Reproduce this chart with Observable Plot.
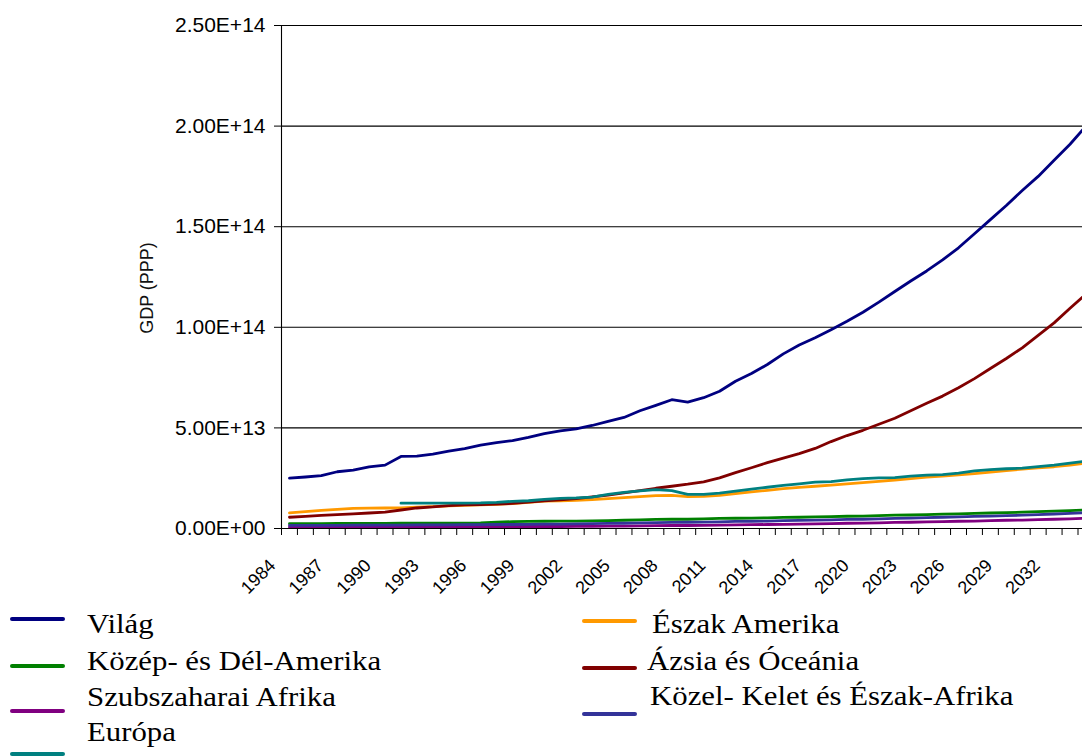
<!DOCTYPE html>
<html>
<head>
<meta charset="utf-8">
<script src="https://cdn.jsdelivr.net/npm/d3@7"></script>
<script src="https://cdn.jsdelivr.net/npm/@observablehq/plot@0.6"></script>
<style>
  html, body { margin: 0; padding: 0; background: #fff; }
  body { width: 1082px; height: 756px; overflow: hidden; position: relative; }
  #chart svg { display: block; }
  .leg-text { position: absolute; font-family: "Liberation Serif", "Times New Roman", serif; font-size: 28px; line-height: 28px; white-space: nowrap; color: #000; transform: scaleX(1.1); transform-origin: left top; }
  .leg-line { position: absolute; width: 55px; height: 4px; border-radius: 2px; }
</style>
</head>
<body>
<div id="chart"></div>
<div id="legend"></div>
<script>
// ---- data (values in units of 1e13 GDP PPP) ----
const years = [1984,1985,1986,1987,1988,1989,1990,1991,1992,1993,1994,1995,1996,1997,1998,1999,
  2000,2001,2002,2003,2004,2005,2006,2007,2008,2009,2010,2011,2012,2013,2014,2015,2016,2017,2018,2019,
  2020,2021,2022,2023,2024,2025,2026,2027,2028,2029,2030,2031,2032,2033,2034];
const labelYears = [1984,1987,1990,1993,1996,1999,2002,2005,2008,2011,2014,2017,2020,2023,2026,2029,2032];
const yTicks = [0, 5e13, 1e14, 1.5e14, 2e14, 2.5e14];

const vilag = [2.50,2.56,2.63,2.82,2.90,3.06,3.15,3.58,3.60,3.70,3.84,
  3.97,4.14,4.27,4.37,4.53,
  4.72,4.85,4.95,5.12,5.32,
  5.52,5.85,6.12,6.40,6.28,
  6.50,6.82,7.32,7.70,8.15,
  8.68,9.12,9.48,9.88,10.30,
  10.75,11.25,11.78,12.30,12.80,
  13.35,13.95,14.65,15.35,16.05,
  16.80,17.50,18.30,19.10,20.00];
const eszakAmerika = [0.78,0.84,0.90,0.95,1.00,1.01,1.02,1.03,1.06,1.09,1.12,
  1.15,1.17,1.20,1.24,1.30,
  1.36,1.38,1.40,1.44,1.48,
  1.53,1.58,1.63,1.65,1.58,
  1.60,1.65,1.74,1.82,1.90,
  1.98,2.04,2.10,2.16,2.22,
  2.28,2.34,2.41,2.48,2.55,
  2.61,2.67,2.73,2.80,2.88,
  2.95,3.01,3.07,3.15,3.25];
const kozepDelAmerika = [0.24,0.24,0.24,0.25,0.25,0.25,0.25,0.26,0.26,0.26,0.27,
  0.27,0.28,0.31,0.34,0.35,
  0.36,0.37,0.37,0.38,0.39,
  0.41,0.43,0.45,0.46,0.46,
  0.48,0.50,0.51,0.52,0.53,
  0.55,0.56,0.58,0.59,0.61,
  0.62,0.64,0.66,0.67,0.69,
  0.71,0.73,0.75,0.77,0.79,
  0.81,0.84,0.86,0.89,0.92];
const azsiaOceania = [0.56,0.60,0.65,0.69,0.73,0.77,0.81,0.92,1.02,1.07,1.14,
  1.18,1.19,1.21,1.25,1.31,
  1.37,1.42,1.48,1.57,1.66,
  1.77,1.88,2.00,2.10,2.20,
  2.32,2.52,2.78,3.02,3.27,
  3.50,3.72,3.98,4.32,4.62,
  4.88,5.18,5.48,5.85,6.22,
  6.58,7.00,7.45,7.95,8.45,
  8.98,9.60,10.22,10.95,11.65];
const szubszaharai = [0.08,0.08,0.08,0.08,0.08,0.08,0.08,0.09,0.09,0.09,0.09,
  0.09,0.09,0.10,0.10,0.10,
  0.10,0.10,0.11,0.11,0.12,
  0.12,0.13,0.14,0.15,0.15,
  0.16,0.17,0.18,0.19,0.20,
  0.21,0.22,0.23,0.24,0.26,
  0.27,0.28,0.30,0.31,0.33,
  0.34,0.36,0.37,0.39,0.41,
  0.42,0.44,0.46,0.48,0.51];
const kozelKelet = [0.16,0.16,0.16,0.16,0.17,0.17,0.17,0.17,0.18,0.18,0.18,
  0.19,0.19,0.20,0.20,0.21,
  0.22,0.22,0.23,0.24,0.25,
  0.26,0.28,0.29,0.30,0.31,
  0.32,0.33,0.35,0.36,0.37,
  0.39,0.40,0.42,0.43,0.45,
  0.46,0.48,0.50,0.52,0.54,
  0.56,0.58,0.60,0.62,0.64,
  0.66,0.69,0.72,0.75,0.78];
const europa = [null,null,null,null,null,null,null,1.26,1.26,1.26,1.26,
  1.26,1.27,1.30,1.35,1.38,
  1.45,1.50,1.52,1.56,1.70,
  1.80,1.87,1.93,1.88,1.70,
  1.70,1.76,1.86,1.96,2.05,
  2.14,2.22,2.30,2.33,2.42,
  2.48,2.52,2.53,2.60,2.65,
  2.68,2.75,2.86,2.93,2.97,
  3.00,3.08,3.15,3.25,3.35];

// series in Excel drawing order (later drawn on top)
const seriesNames = ["Világ","Észak Amerika","Közép- és Dél-Amerika","Ázsia és Óceánia","Szubszaharai Afrika","Közel- Kelet és Észak-Afrika","Európa"];
const seriesValues = [vilag, eszakAmerika, kozepDelAmerika, azsiaOceania, szubszaharai, kozelKelet, europa];
const seriesColors = ["#000080","#FF9900","#008000","#800000","#800080","#333399","#008080"];

// ---- build table ----
const table = [];
seriesNames.forEach((name, i) => {
  years.forEach((yr, j) => {
    const v = seriesValues[i][j];
    if (v != null) table.push({series: name, year: yr, value: v * 1e13});
  });
});

const fmt = v => {
  const [m, e] = v.toExponential(2).split("e");
  return m + "E" + e[0] + e.slice(1).padStart(2, "0");
};

// category boundaries for x ticks
const boundaries = years.map(y => y - 0.5);

const pxPerYear = 15.93;
const marginLeft = 281;
const width = 1082;
const xDomainEnd = 1983.5 + (width - marginLeft) / pxPerYear;

const lineMarks = seriesNames.map((name, i) =>
  Plot.line(table.filter(d => d.series === name), {
    x: "year", y: "value", stroke: seriesColors[i], strokeWidth: 2.8,
    strokeLinejoin: "round", strokeLinecap: "round", clip: true
  })
);

const chart = Plot.plot({
  width: width,
  height: 605,
  marginLeft: marginLeft,
  marginRight: 0,
  marginTop: 25,
  marginBottom: 77,
  x: {domain: [1983.5, xDomainEnd], axis: null},
  y: {domain: [0, 2.5e14], axis: null, label: null},
  style: {fontFamily: "'Liberation Sans', Arial, sans-serif", background: "#fff", color: "#000"},
  marks: [
    Plot.ruleY(yTicks, {stroke: "#000", strokeWidth: 1.1}),
    Plot.axisY(yTicks, {tickSize: 7, tickPadding: 9, tickFormat: fmt, fontSize: 21, label: null, fill: "#000"}),
    Plot.axisX(boundaries, {tickSize: 7, tickFormat: () => "", label: null}),
    Plot.ruleX([1983.5], {stroke: "#000", strokeWidth: 1.1}),
    ...lineMarks,
    Plot.text(labelYears, {x: d => d, y: () => 0, text: d => String(d), rotate: -45, textAnchor: "end", dx: -17, dy: 34, fontSize: 18, fill: "#000"}),
    Plot.text(["GDP (PPP)"], {frameAnchor: "left", textAnchor: "middle", text: d => d, rotate: -90, dx: -134, dy: 11, fontSize: 18, fill: "#111"})
  ]
});
document.getElementById("chart").appendChild(chart);

// ---- legend (HTML, below the SVG) ----
const legendOrder = ["Világ","Közép- és Dél-Amerika","Szubszaharai Afrika","Európa","Észak Amerika","Ázsia és Óceánia","Közel- Kelet és Észak-Afrika"];
const legendLayout = [
  {lx: 10, ly: 617, tx: 87, base: 633},
  {lx: 10, ly: 664, tx: 87, base: 670},
  {lx: 10, ly: 709, tx: 87, base: 706},
  {lx: 10, ly: 752, tx: 87, base: 741},
  {lx: 582, ly: 619, tx: 652, base: 633},
  {lx: 582, ly: 666, tx: 647, base: 670},
  {lx: 582, ly: 712, tx: 650, base: 705}
];
const legend = document.getElementById("legend");
legendOrder.forEach((name, k) => {
  const i = seriesNames.indexOf(name);
  const L = legendLayout[k];
  const ln = document.createElement("div");
  ln.className = "leg-line";
  ln.style.left = L.lx + "px";
  ln.style.top = L.ly + "px";
  ln.style.background = seriesColors[i];
  legend.appendChild(ln);
  const tx = document.createElement("div");
  tx.className = "leg-text";
  tx.textContent = name;
  tx.style.left = L.tx + "px";
  tx.style.top = (L.base - 23.4) + "px";
  legend.appendChild(tx);
});
</script>
</body>
</html>
